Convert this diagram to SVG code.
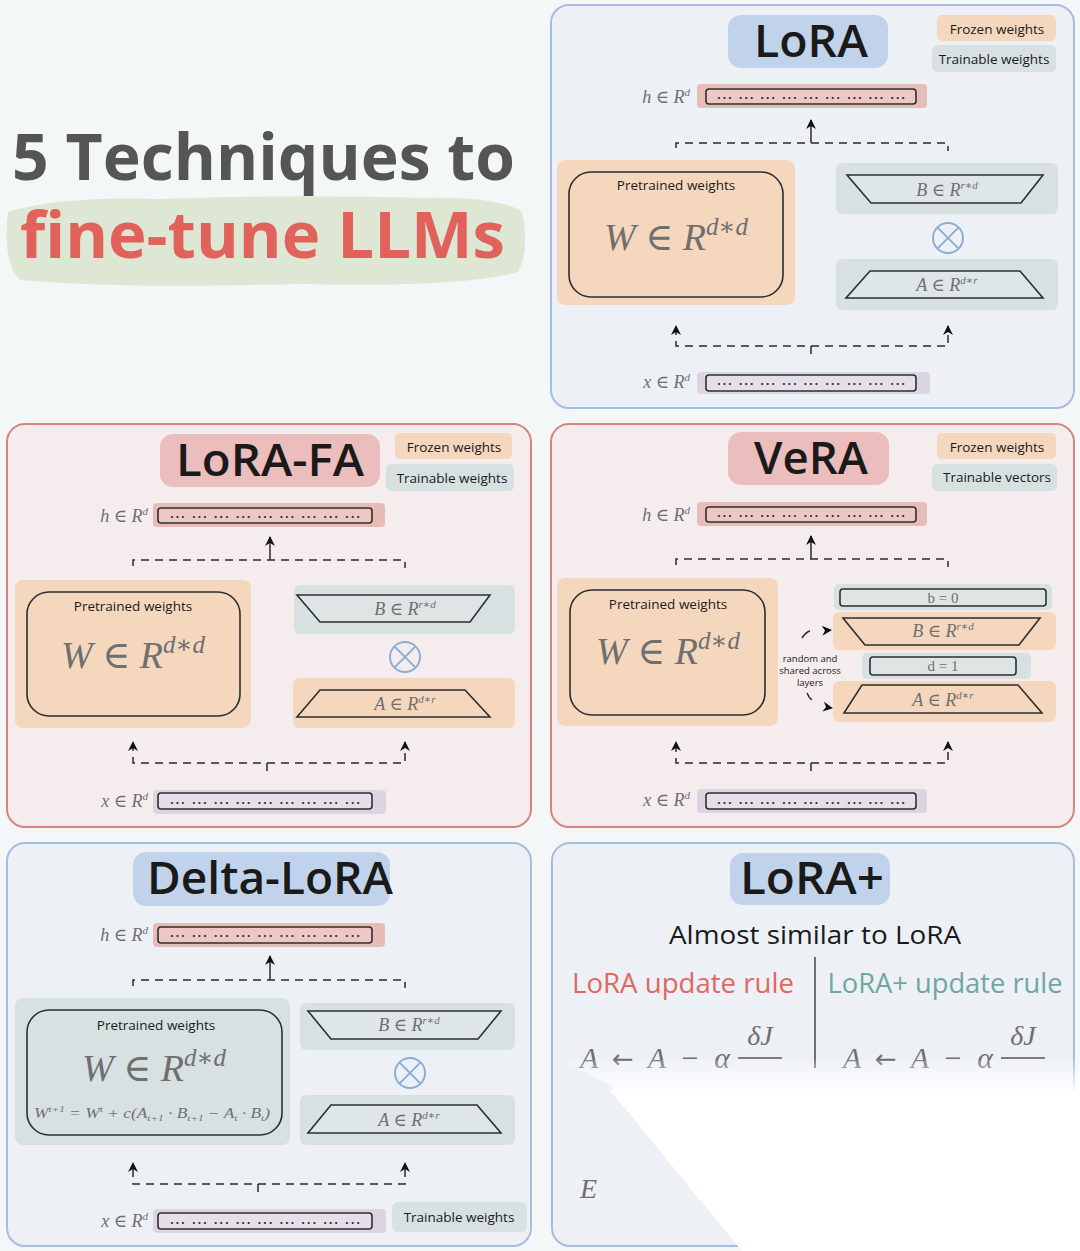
<svg xmlns="http://www.w3.org/2000/svg" width="1080" height="1251" viewBox="0 0 1080 1251">
<defs>
<style>
.hand{font-family:"Open Sans","Noto Sans",sans-serif;fill:#1a1a1a}
.ttl{font-size:46px;font-weight:600;text-anchor:middle}
.leg{font-size:13.5px;text-anchor:middle}
.m{font-family:"Liberation Serif","DejaVu Serif",serif;font-style:italic;fill:#6f6f6f}
.mu{font-family:"Liberation Serif","DejaVu Serif",serif;fill:#6f6f6f}
.arr{font-family:"DejaVu Sans",sans-serif;font-style:normal;fill:#6f6f6f}
.dash{fill:none;stroke:#2a2a2a;stroke-width:1.5;stroke-dasharray:8 6}
.solid{fill:none;stroke:#2a2a2a;stroke-width:1.5}
.vec{stroke:#2e2e2e;stroke-width:1.6}
.dots{font-family:"DejaVu Sans",sans-serif;font-size:10px;font-weight:bold;fill:#333;text-anchor:middle}
.pblue{fill:#edf1f6;stroke:#a5bddf;stroke-width:2}
.ppink{fill:#f5eded;stroke:#d7857f;stroke-width:2}
.tblue{fill:#c1d3eb}
.tpink{fill:#ebbdbd}
.peach{fill:#f5d7be}
.teal{fill:#d7e1e2}
.hbg{fill:#e7bcb6}
.xbg{fill:#dcd4e0}
.box{stroke:#2e2e2e;stroke-width:1.6}
.otimes{fill:none;stroke:#8eacd8;stroke-width:2}
</style>
<marker id="ah" viewBox="0 0 10 10" refX="9" refY="5" markerWidth="11" markerHeight="10" markerUnits="userSpaceOnUse" orient="auto">
<path d="M0,0 L10,5 L0,10 L3,5 z" fill="#111"/>
</marker>
<linearGradient id="fade" x1="0" y1="1055" x2="0" y2="1095" gradientUnits="userSpaceOnUse">
<stop offset="0" stop-color="#ffffff" stop-opacity="0"/>
<stop offset="1" stop-color="#ffffff" stop-opacity="1"/>
</linearGradient>
</defs>

<rect x="0" y="0" width="1080" height="1251" fill="#f4f7f8"/>

<!-- Title -->
<g id="title">
<path d="M8,212 Q60,196 160,199 Q300,194 420,198 Q500,196 522,212 Q530,250 518,272 Q460,288 300,284 Q120,289 20,280 Q2,262 8,212 z" fill="#dee6d4"/>
<text class="hand" x="12" y="180" font-size="64" font-weight="700" style="fill:#555" textLength="503" lengthAdjust="spacingAndGlyphs">5 Techniques to</text>
<text class="hand" x="20" y="258" font-size="64" font-weight="700" style="fill:#e0625b" textLength="485" lengthAdjust="spacingAndGlyphs">fine-tune LLMs</text>
</g>

<!-- ============ LoRA panel ============ -->
<g id="lora" transform="translate(551,5)">
<rect class="pblue" x="0" y="0" width="523" height="403" rx="18"/>
<g id="lora-title"><rect class="tblue" x="177" y="10" width="160" height="53" rx="13"/>
<text class="hand ttl" x="260" y="52" textLength="114" lengthAdjust="spacingAndGlyphs">LoRA</text></g>
<g id="lora-legend">
<rect class="peach" x="386" y="10" width="119" height="26" rx="5"/><text class="hand leg" x="446" y="29">Frozen weights</text>
<rect class="teal" x="381" y="40" width="124" height="27" rx="5"/><text class="hand leg" x="443" y="59">Trainable weights</text></g>
<g id="lora-h">
<text class="m" x="139" y="98" font-size="18" text-anchor="end">h <tspan class="mu">∈</tspan> R<tspan font-size="11" dy="-7">d</tspan></text>
<rect class="hbg" x="146" y="79" width="230" height="24" rx="4"/>
<rect class="vec" x="155" y="84" width="210" height="15" rx="3" fill="#edc8c2"/>
<text class="dots" x="260" y="94" textLength="188" lengthAdjust="spacing">... ... ... ... ... ... ... ... ...</text></g>
<g id="lora-w">
<rect class="peach" x="6" y="155" width="238" height="145" rx="8"/>
<rect class="box" x="18" y="167" width="214" height="125" rx="22" fill="#f5d7be"/>
<text class="hand leg" x="125" y="185" font-size="14">Pretrained weights</text>
<text class="m" x="125" y="245" font-size="38" text-anchor="middle">W <tspan class="mu">∈</tspan> R<tspan font-size="25" dy="-15">d∗d</tspan></text></g>
<g id="lora-b">
<rect class="teal" x="285" y="158" width="222" height="51" rx="6"/>
<polygon class="box" points="296,170 492,170 470,198 320,198" fill="#dfe6e8"/>
<text class="m" x="396" y="191" font-size="18" text-anchor="middle">B <tspan class="mu">∈</tspan> R<tspan font-size="11" dy="-7">r∗d</tspan></text></g>
<g id="lora-x-op"><circle class="otimes" cx="397" cy="233" r="15"/><path class="otimes" d="M386.4,222.4 L407.6,243.6 M407.6,222.4 L386.4,243.6"/></g>
<g id="lora-a">
<rect class="teal" x="285" y="254" width="222" height="51" rx="6"/>
<polygon class="box" points="319,266 469,266 492,293 295,293" fill="#dfe6e8"/>
<text class="m" x="396" y="286" font-size="18" text-anchor="middle">A <tspan class="mu">∈</tspan> R<tspan font-size="11" dy="-7">d∗r</tspan></text></g>
<g id="lora-x">
<text class="m" x="139" y="383" font-size="18" text-anchor="end">x <tspan class="mu">∈</tspan> R<tspan font-size="11" dy="-7">d</tspan></text>
<rect class="xbg" x="146" y="367" width="233" height="22" rx="4"/>
<rect class="vec" x="155" y="370" width="210" height="16" rx="3" fill="#e4dfe9"/>
<text class="dots" x="260" y="380" textLength="188" lengthAdjust="spacing">... ... ... ... ... ... ... ... ...</text></g>
</g>

<!-- ============ LoRA-FA panel ============ -->
<g id="lorafa" transform="translate(7,424)">
<rect class="ppink" x="0" y="0" width="524" height="403" rx="18"/>
<g id="lorafa-title"><rect class="tpink" x="153" y="10" width="220" height="53" rx="13"/>
<text class="hand ttl" x="263" y="52" textLength="188" lengthAdjust="spacingAndGlyphs">LoRA-FA</text></g>
<g id="lorafa-legend">
<rect class="peach" x="388" y="9" width="117" height="26" rx="5"/><text class="hand leg" x="447" y="28">Frozen weights</text>
<rect class="teal" x="379" y="40" width="128" height="27" rx="5"/><text class="hand leg" x="445" y="59">Trainable weights</text></g>
<g id="lorafa-h">
<text class="m" x="141" y="98" font-size="18" text-anchor="end">h <tspan class="mu">∈</tspan> R<tspan font-size="11" dy="-7">d</tspan></text>
<rect class="hbg" x="146" y="79" width="232" height="24" rx="4"/>
<rect class="vec" x="151" y="84" width="214" height="15" rx="3" fill="#edc8c2"/>
<text class="dots" x="258" y="94" textLength="190" lengthAdjust="spacing">... ... ... ... ... ... ... ... ...</text></g>
<g id="lorafa-w">
<rect class="peach" x="8" y="156" width="236" height="148" rx="8"/>
<rect class="box" x="20" y="168" width="213" height="124" rx="22" fill="#f5d7be"/>
<text class="hand leg" x="126" y="187" font-size="14">Pretrained weights</text>
<text class="m" x="126" y="244" font-size="38" text-anchor="middle">W <tspan class="mu">∈</tspan> R<tspan font-size="25" dy="-15">d∗d</tspan></text></g>
<g id="lorafa-b">
<rect class="teal" x="287" y="161" width="221" height="49" rx="6"/>
<polygon class="box" points="290,171 483,171 463,198 313,198" fill="#dfe4e5"/>
<text class="m" x="398" y="191" font-size="18" text-anchor="middle">B <tspan class="mu">∈</tspan> R<tspan font-size="11" dy="-7">r∗d</tspan></text></g>
<g id="lorafa-x-op"><circle class="otimes" cx="398" cy="233" r="15"/><path class="otimes" d="M387.4,222.4 L408.6,243.6 M408.6,222.4 L387.4,243.6"/></g>
<g id="lorafa-a">
<rect class="peach" x="286" y="254" width="222" height="50" rx="6"/>
<polygon class="box" points="313,266 458,266 483,293 290,293" fill="#f5d7be"/>
<text class="m" x="398" y="286" font-size="18" text-anchor="middle">A <tspan class="mu">∈</tspan> R<tspan font-size="11" dy="-7">d∗r</tspan></text></g>
<g id="lorafa-x">
<text class="m" x="141" y="383" font-size="18" text-anchor="end">x <tspan class="mu">∈</tspan> R<tspan font-size="11" dy="-7">d</tspan></text>
<rect class="xbg" x="146" y="366" width="233" height="24" rx="4"/>
<rect class="vec" x="151" y="369" width="214" height="16" rx="3" fill="#e4dfe9"/>
<text class="dots" x="258" y="380" textLength="190" lengthAdjust="spacing">... ... ... ... ... ... ... ... ...</text></g>
</g>

<!-- ============ VeRA panel ============ -->
<g id="vera" transform="translate(551,424)">
<rect class="ppink" x="0" y="0" width="523" height="403" rx="18"/>
<g id="vera-title"><rect class="tpink" x="177" y="8" width="161" height="53" rx="13"/>
<text class="hand ttl" x="260" y="50" textLength="114" lengthAdjust="spacingAndGlyphs">VeRA</text></g>
<g id="vera-legend">
<rect class="peach" x="386" y="9" width="119" height="26" rx="5"/><text class="hand leg" x="446" y="28">Frozen weights</text>
<rect class="teal" x="381" y="40" width="125" height="27" rx="5"/><text class="hand leg" x="446" y="58">Trainable vectors</text></g>
<g id="vera-h">
<text class="m" x="139" y="97" font-size="18" text-anchor="end">h <tspan class="mu">∈</tspan> R<tspan font-size="11" dy="-7">d</tspan></text>
<rect class="hbg" x="146" y="78" width="230" height="24" rx="4"/>
<rect class="vec" x="155" y="83" width="210" height="15" rx="3" fill="#edc8c2"/>
<text class="dots" x="260" y="93" textLength="188" lengthAdjust="spacing">... ... ... ... ... ... ... ... ...</text></g>
<g id="vera-w">
<rect class="peach" x="6" y="154" width="221" height="148" rx="8"/>
<rect class="box" x="19" y="166" width="195" height="125" rx="22" fill="#f5d7be"/>
<text class="hand leg" x="117" y="185" font-size="14">Pretrained weights</text>
<text class="m" x="117" y="240" font-size="38" text-anchor="middle">W <tspan class="mu">∈</tspan> R<tspan font-size="25" dy="-15">d∗d</tspan></text></g>
<g id="vera-b0">
<rect class="teal" x="283" y="160" width="218" height="26" rx="5"/>
<rect class="box" x="289" y="165" width="206" height="17" rx="3" fill="#dfe4e5"/>
<text class="mu" x="392" y="179" font-size="15" text-anchor="middle">b = 0</text></g>
<g id="vera-b">
<rect class="peach" x="282" y="188" width="223" height="38" rx="6"/>
<polygon class="box" points="292,194 489,194 468,221 314,221" fill="#f5d7be"/>
<text class="m" x="392" y="213" font-size="18" text-anchor="middle">B <tspan class="mu">∈</tspan> R<tspan font-size="11" dy="-7">r∗d</tspan></text></g>
<g id="vera-d1">
<rect class="teal" x="311" y="229" width="169" height="26" rx="5"/>
<rect class="box" x="319" y="233" width="146" height="18" rx="3" fill="#dfe4e5"/>
<text class="mu" x="392" y="247" font-size="15" text-anchor="middle">d = 1</text></g>
<g id="vera-a">
<rect class="peach" x="282" y="257" width="223" height="41" rx="6"/>
<polygon class="box" points="311,261 467,261 491,289 293,289" fill="#f5d7be"/>
<text class="m" x="392" y="282" font-size="18" text-anchor="middle">A <tspan class="mu">∈</tspan> R<tspan font-size="11" dy="-7">d∗r</tspan></text></g>
<g id="vera-note">
<text class="hand" x="259" y="238" font-size="9.5" text-anchor="middle">random and</text>
<text class="hand" x="259" y="250" font-size="9.5" text-anchor="middle">shared across</text>
<text class="hand" x="259" y="262" font-size="9.5" text-anchor="middle">layers</text></g>
<g id="vera-x">
<text class="m" x="139" y="382" font-size="18" text-anchor="end">x <tspan class="mu">∈</tspan> R<tspan font-size="11" dy="-7">d</tspan></text>
<rect class="xbg" x="146" y="365" width="230" height="24" rx="4"/>
<rect class="vec" x="155" y="369" width="210" height="16" rx="3" fill="#e4dfe9"/>
<text class="dots" x="260" y="380" textLength="188" lengthAdjust="spacing">... ... ... ... ... ... ... ... ...</text></g>
</g>

<!-- ============ Delta-LoRA panel ============ -->
<g id="deltalora" transform="translate(7,843)">
<rect class="pblue" x="0" y="0" width="524" height="403" rx="18"/>
<g id="delta-title"><rect class="tblue" x="126" y="9" width="257" height="54" rx="13"/>
<text class="hand ttl" x="263" y="51" textLength="246" lengthAdjust="spacingAndGlyphs">Delta-LoRA</text></g>
<g id="delta-h">
<text class="m" x="141" y="98" font-size="18" text-anchor="end">h <tspan class="mu">∈</tspan> R<tspan font-size="11" dy="-7">d</tspan></text>
<rect class="hbg" x="146" y="80" width="232" height="24" rx="4"/>
<rect class="vec" x="151" y="84" width="214" height="16" rx="3" fill="#edc8c2"/>
<text class="dots" x="258" y="94" textLength="190" lengthAdjust="spacing">... ... ... ... ... ... ... ... ...</text></g>
<g id="delta-w">
<rect class="teal" x="8" y="155" width="275" height="147" rx="8"/>
<rect class="box" x="20" y="167" width="255" height="125" rx="22" fill="#d7e1e2"/>
<text class="hand leg" x="149" y="187" font-size="14">Pretrained weights</text>
<text class="m" x="147" y="238" font-size="38" text-anchor="middle">W <tspan class="mu">∈</tspan> R<tspan font-size="25" dy="-15">d∗d</tspan></text>
<text class="m" x="145" y="275" font-size="14" text-anchor="middle" textLength="236" lengthAdjust="spacingAndGlyphs">W<tspan font-size="9" dy="-6">t+1</tspan><tspan dy="6" class="mu"> = </tspan>W<tspan font-size="9" dy="-6">t</tspan><tspan dy="6" class="mu"> + </tspan>c<tspan class="mu">(</tspan>A<tspan font-size="9" dy="3">t+1</tspan><tspan dy="-3" class="mu"> · </tspan>B<tspan font-size="9" dy="3">t+1</tspan><tspan dy="-3" class="mu"> − </tspan>A<tspan font-size="9" dy="3">t</tspan><tspan dy="-3" class="mu"> · </tspan>B<tspan font-size="9" dy="3">t</tspan><tspan dy="-3" class="mu">)</tspan></text></g>
<g id="delta-b">
<rect class="teal" x="293" y="160" width="215" height="47" rx="6"/>
<polygon class="box" points="301,168 494,168 471,196 324,196" fill="#dfe6e8"/>
<text class="m" x="402" y="188" font-size="18" text-anchor="middle">B <tspan class="mu">∈</tspan> R<tspan font-size="11" dy="-7">r∗d</tspan></text></g>
<g id="delta-x-op"><circle class="otimes" cx="403" cy="230" r="15"/><path class="otimes" d="M392.4,219.4 L413.6,240.6 M413.6,219.4 L392.4,240.6"/></g>
<g id="delta-a">
<rect class="teal" x="293" y="252" width="215" height="50" rx="6"/>
<polygon class="box" points="324,262 470,262 494,290 301,290" fill="#dfe6e8"/>
<text class="m" x="402" y="283" font-size="18" text-anchor="middle">A <tspan class="mu">∈</tspan> R<tspan font-size="11" dy="-7">d∗r</tspan></text></g>
<g id="delta-x">
<text class="m" x="141" y="384" font-size="18" text-anchor="end">x <tspan class="mu">∈</tspan> R<tspan font-size="11" dy="-7">d</tspan></text>
<rect class="xbg" x="146" y="366" width="233" height="24" rx="4"/>
<rect class="vec" x="151" y="370" width="214" height="16" rx="3" fill="#e4dfe9"/>
<text class="dots" x="258" y="381" textLength="190" lengthAdjust="spacing">... ... ... ... ... ... ... ... ...</text></g>
<g id="delta-legend"><rect class="teal" x="385" y="359" width="135" height="30" rx="6"/>
<text class="hand leg" x="452" y="379" font-size="14">Trainable weights</text></g>
</g>

<!-- ============ LoRA+ panel ============ -->
<g id="loraplus">
<rect class="pblue" x="552" y="843" width="522" height="403" rx="18"/>
<g id="loraplus-title"><rect class="tblue" x="730" y="853" width="160" height="52" rx="13"/>
<text class="hand ttl" x="812" y="894" textLength="144" lengthAdjust="spacingAndGlyphs">LoRA+</text></g>
<text class="hand" x="815" y="944" font-size="26" text-anchor="middle" textLength="292" lengthAdjust="spacingAndGlyphs">Almost similar to LoRA</text>
<line x1="815" y1="957" x2="815" y2="1068" stroke="#444" stroke-width="1.5"/>
<text class="hand" x="683" y="993" font-size="27" text-anchor="middle" style="fill:#e0685f" textLength="222" lengthAdjust="spacingAndGlyphs">LoRA update rule</text>
<text class="hand" x="945" y="993" font-size="27" text-anchor="middle" style="fill:#6fa7a0" textLength="235" lengthAdjust="spacingAndGlyphs">LoRA+ update rule</text>
<g id="rule-left">
<text class="m" x="580" y="1068" font-size="30" textLength="150" lengthAdjust="spacing">A <tspan class="arr" font-size="26">←</tspan> A <tspan class="mu">−</tspan> α</text>
<text class="m" x="760" y="1045" font-size="28" text-anchor="middle">δJ</text>
<line x1="738" y1="1058" x2="782" y2="1058" stroke="#555" stroke-width="1.6"/></g>
<g id="rule-right">
<text class="m" x="843" y="1068" font-size="30" textLength="150" lengthAdjust="spacing">A <tspan class="arr" font-size="26">←</tspan> A <tspan class="mu">−</tspan> α</text>
<text class="m" x="1023" y="1045" font-size="28" text-anchor="middle">δJ</text>
<line x1="1001" y1="1058" x2="1045" y2="1058" stroke="#555" stroke-width="1.6"/></g>
<text class="m" x="580" y="1198" font-size="28">E</text>
<polygon points="560,1060 1080,1060 1080,1251 745,1251 700,1200 610,1085" fill="url(#fade)"/>
<polygon points="610,1090 1080,1090 1080,1251 742,1251 700,1200" fill="#ffffff"/>
</g>

<!-- ============ Connectors ============ -->
<g id="connectors">
<g transform="translate(551,5)">
<path class="dash" d="M125,143 V138 H397 V146"/>
<path class="solid" d="M260,138 V115" marker-end="url(#ah)"/>
<path class="dash" d="M260,349 V341 H125 V321" marker-end="url(#ah)"/>
<path class="dash" d="M260,341 H397 V321" marker-end="url(#ah)"/>
</g>
<g transform="translate(7,424)">
<path class="dash" d="M126,142 V136 H398 V144"/>
<path class="solid" d="M263,136 V113" marker-end="url(#ah)"/>
<path class="dash" d="M260,347 V339 H126 V318" marker-end="url(#ah)"/>
<path class="dash" d="M260,339 H398 V318" marker-end="url(#ah)"/>
</g>
<g transform="translate(551,424)">
<path class="dash" d="M125,141 V135 H397 V143"/>
<path class="solid" d="M260,135 V112" marker-end="url(#ah)"/>
<path class="dash" d="M260,347 V339 H125 V318" marker-end="url(#ah)"/>
<path class="dash" d="M260,339 H397 V318" marker-end="url(#ah)"/>
<path d="M251,214 Q255,208 259,207" class="solid"/><path d="M266,207 L280,206" fill="none" stroke="none" marker-end="url(#ah)"/>
<path d="M256,269 Q258,274 261,276" class="solid"/><path d="M268,282 L281,284" fill="none" stroke="none" marker-end="url(#ah)"/>
</g>
<g transform="translate(7,843)">
<path class="dash" d="M126,143 V137 H398 V145"/>
<path class="solid" d="M263,137 V113" marker-end="url(#ah)"/>
<path class="dash" d="M251,349 V341 H126 V320" marker-end="url(#ah)"/>
<path class="dash" d="M251,341 H398 V320" marker-end="url(#ah)"/>
</g>
</g>
</svg>
